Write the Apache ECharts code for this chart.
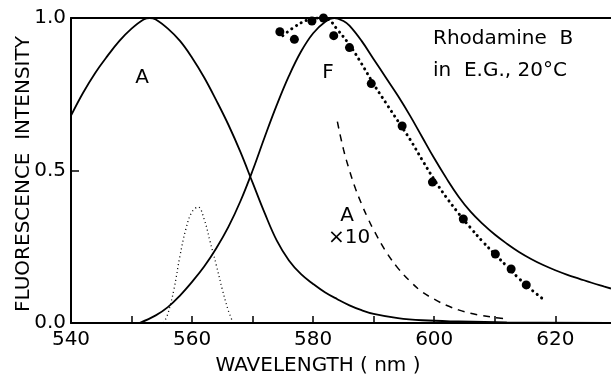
<!DOCTYPE html>
<html>
<head>
<meta charset="utf-8">
<script src="https://cdn.jsdelivr.net/npm/echarts@6/dist/echarts.min.js"></script>
<style>html,body{margin:0;padding:0;background:#fff;}#c{width:611px;height:380px;}</style>
</head>
<body>
<div id="c"></div>
<script>
// Absorption spectrum A (solid)
const absWl  = [540, 542, 544, 546, 548, 550, 552, 553, 554, 556, 558, 560, 562, 564, 566, 568, 570, 572, 574, 576, 578, 580, 582, 584, 586, 588, 590, 594, 598, 604, 612, 629];
const absVal = [0.68, 0.755, 0.82, 0.875, 0.925, 0.965, 0.995, 1.0, 0.995, 0.965, 0.925, 0.87, 0.805, 0.73, 0.65, 0.56, 0.46, 0.36, 0.27, 0.205, 0.16, 0.128, 0.1, 0.078, 0.058, 0.042, 0.03, 0.016, 0.009, 0.005, 0.002, 0.0];
// Fluorescence spectrum F (solid)
const fluWl  = [551.3, 554, 556, 558, 560, 562, 564, 566, 568, 570, 572, 574, 576, 578, 580, 582, 583.5, 585, 586, 588, 590, 592, 594, 596, 598, 600, 602, 604, 606, 608, 610, 612, 614, 616, 618, 620, 622, 624, 626, 628, 629.2];
const fluVal = [0, 0.025, 0.052, 0.09, 0.135, 0.185, 0.245, 0.315, 0.4, 0.5, 0.61, 0.715, 0.81, 0.89, 0.95, 0.988, 1.0, 0.99, 0.975, 0.925, 0.865, 0.805, 0.745, 0.68, 0.61, 0.54, 0.475, 0.415, 0.365, 0.325, 0.29, 0.26, 0.233, 0.21, 0.19, 0.173, 0.158, 0.145, 0.132, 0.12, 0.113];
// Small dotted band
const bandWl  = [555.3, 556, 557, 558, 559, 560, 561, 562, 563, 564, 565, 566, 566.8];
const bandVal = [0, 0.03, 0.11, 0.22, 0.31, 0.365, 0.38, 0.34, 0.265, 0.19, 0.11, 0.04, 0];
// A x10 (dashed)
const a10Wl  = [584, 585, 586, 587, 588, 589, 590, 592, 594, 596, 598, 600, 602, 604, 606, 608, 610, 612];
const a10Val = [0.66, 0.57, 0.5, 0.44, 0.39, 0.345, 0.305, 0.235, 0.18, 0.137, 0.102, 0.078, 0.058, 0.043, 0.032, 0.024, 0.018, 0.013];
// Dotted fitted curve
const fitWl  = [575, 577, 579, 581, 582.5, 584, 586, 588, 590, 592, 594, 596, 598, 600, 602, 604, 606, 608, 610, 612, 614, 616, 618];
const fitVal = [0.942, 0.972, 0.993, 1.0, 0.995, 0.962, 0.912, 0.85, 0.783, 0.722, 0.662, 0.602, 0.535, 0.47, 0.412, 0.36, 0.312, 0.267, 0.226, 0.186, 0.146, 0.11, 0.078];
// Measured points (filled circles)
const ptWl  = [574.5, 576.9, 579.8, 581.7, 583.4, 586.0, 589.6, 594.7, 599.7, 604.8, 610.1, 612.7, 615.2];
const ptVal = [0.955, 0.93, 0.99, 1.0, 0.942, 0.903, 0.785, 0.646, 0.462, 0.341, 0.226, 0.177, 0.125];

const xTicks = [540, 560, 580, 600, 620];
const yTicks = [0.0, 0.5, 1.0];

const zip = (a, b) => a.map((v, i) => [v, b[i]]);
const FONT = '"DejaVu Sans", sans-serif';
const FS = 20;
const txt = (text, x, y, align, extra) => Object.assign({
  type: 'text', x: x, y: y,
  style: { text: text, font: FS + 'px ' + FONT, fill: '#000', textAlign: align || 'center', textVerticalAlign: 'middle' }
}, extra || {});

const chart = echarts.init(document.getElementById('c'), null, { renderer: 'canvas' });
const lineBase = { type: 'line', symbol: 'none', smooth: 0.4, silent: true, animation: false };
chart.setOption({
  animation: false,
  grid: { left: 71, top: 18, right: 0, bottom: 57, containLabel: false },
  xAxis: [{
    type: 'value', min: 540, max: 629.2, interval: 10,
    axisLine: { lineStyle: { color: '#000', width: 2 } },
    axisTick: { inside: true, length: 7, lineStyle: { color: '#000', width: 1.5 } },
    splitLine: { show: false },
    axisLabel: {
      margin: 7, color: '#000', fontSize: FS, fontFamily: FONT, showMaxLabel: false,
      formatter: v => xTicks.indexOf(v) >= 0 ? String(v) : ''
    }
  }, {
    type: 'value', position: 'top', min: 540, max: 629.2,
    axisLine: { show: true, lineStyle: { color: '#000', width: 2 } },
    axisTick: { show: false }, axisLabel: { show: false }, splitLine: { show: false }
  }],
  yAxis: {
    type: 'value', min: 0, max: 1, interval: 0.5,
    axisLine: { show: true, lineStyle: { color: '#000', width: 2 } },
    axisTick: { show: true, inside: true, length: 8, lineStyle: { color: '#000', width: 1.5 } },
    splitLine: { show: false },
    axisLabel: {
      margin: 5, color: '#000', fontSize: FS, fontFamily: FONT,
      formatter: v => yTicks.indexOf(v) >= 0 ? v.toFixed(1) : ''
    }
  },
  series: [
    Object.assign({}, lineBase, { data: zip(absWl, absVal), lineStyle: { color: '#000', width: 1.8 } }),
    Object.assign({}, lineBase, { data: zip(fluWl, fluVal), lineStyle: { color: '#000', width: 1.8 } }),
    Object.assign({}, lineBase, { data: zip(bandWl, bandVal), lineStyle: { color: '#000', width: 1.3, type: [1, 3] } }),
    Object.assign({}, lineBase, { data: zip(a10Wl, a10Val), lineStyle: { color: '#000', width: 1.5, type: [7, 6] } }),
    Object.assign({}, lineBase, { data: zip(fitWl, fitVal), lineStyle: { color: '#000', width: 3, type: [0.1, 5.5], cap: 'round' } }),
    { type: 'scatter', data: zip(ptWl, ptVal), symbol: 'circle', symbolSize: 9, itemStyle: { color: '#000', opacity: 1 }, silent: true, animation: false }
  ],
  graphic: [
    txt('FLUORESCENCE  INTENSITY', 24, 174, 'center', { rotation: Math.PI / 2 }),
    txt('WAVELENGTH ( nm )', 318, 366),
    txt('A', 142, 78),
    txt('F', 328, 73),
    txt('Rhodamine  B', 433, 39, 'left'),
    txt('in  E.G., 20°C', 433, 71, 'left'),
    txt('A', 347, 216),
    txt('×10', 349, 238)
  ]
});
</script>
</body>
</html>
